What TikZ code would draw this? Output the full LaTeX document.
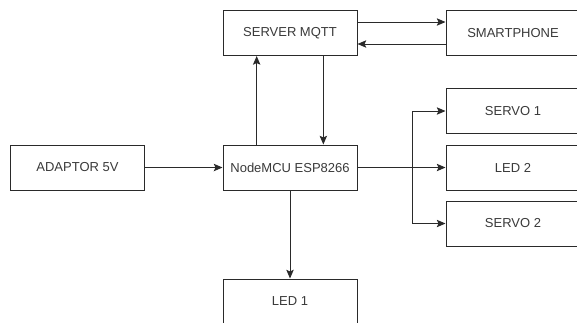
\documentclass[tikz,border=0pt]{standalone}
\usepackage{fontspec}
\setmainfont{Liberation Sans}
\usetikzlibrary{arrows.meta}
\definecolor{txt}{HTML}{3A3A3A}
\definecolor{ln}{HTML}{2A2A2A}
\tikzset{
  blk/.style={draw=ln, line width=0.75pt, rectangle, minimum width=100.5pt, minimum height=33.75pt, inner sep=0pt, font=\fontsize{9.75pt}{11pt}\selectfont, text=txt},
  arr/.style={draw=ln, line width=0.75pt, -{Stealth[length=6.5pt,width=5.5pt,inset=1.2pt]}}
}
\begin{document}
\begin{tikzpicture}[x=0.75pt,y=-0.75pt]
\clip (0,0) rectangle (577,322);
\fill[white] (0,0) rectangle (577,322);
\node[blk] (server) at (290,33) {SERVER MQTT};
\node[blk] (smart) at (513,33) {SMARTPHONE};
\node[blk] (servo1) at (513,111) {SERVO 1};
\node[blk] (adaptor) at (77.5,167.5) {ADAPTOR 5V};
\node[blk] (mcu) at (290,167.5) {NodeMCU ESP8266};
\node[blk] (led2) at (513,167.5) {LED 2};
\node[blk] (servo2) at (513,223.5) {SERVO 2};
\node[blk] (led1) at (290,301.5) {LED 1};
\coordinate (br) at (412.5,167.5);
\draw[arr] ([yshift=8.25pt]server.east) -- ([yshift=8.25pt]smart.west);
\draw[arr] ([yshift=-8.25pt]smart.west) -- ([yshift=-8.25pt]server.east);
\draw[arr] ([xshift=-25pt]mcu.north) -- ([xshift=-25pt]server.south);
\draw[arr] ([xshift=25pt]server.south) -- ([xshift=25pt]mcu.north);
\draw[arr] (adaptor) -- (mcu);
\draw[arr] (mcu) -- (led2);
\draw[arr] (br) |- (servo1.west);
\draw[arr] (br) |- (servo2.west);
\draw[arr] (mcu) -- (led1);
\end{tikzpicture}
\end{document}
